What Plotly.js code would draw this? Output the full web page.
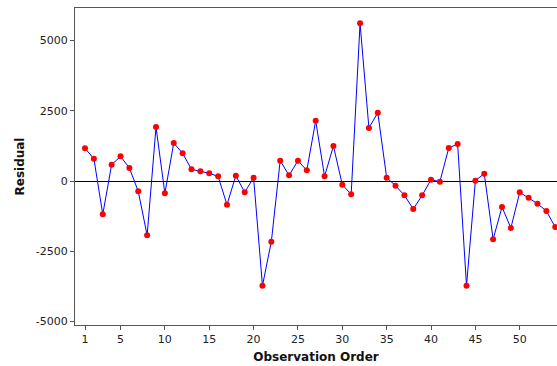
<!DOCTYPE html>
<html>
<head>
<meta charset="utf-8">
<script src="https://cdn.plot.ly/plotly-3.0.1.min.js"></script>
<style>html,body{margin:0;padding:0;background:#fff;}#chart{width:557px;height:366px;}</style>
</head>
<body>
<div id="chart"></div>
<script>
const observation = Array.from({length: 54}, (_, i) => i + 1);
const residual = [
  1163, 794, -1185, 581, 877, 462, -367, -1932, 1920, -439,
  1351, 984, 415, 344, 273, 166, -842, 190, -403, 118,
  -3722, -2157, 723, 201, 723, 379, 2145, 166, 1245, -130,
  -474, 5607, 1885, 2430, 118, -166, -510, -996, -510, 47,
  -24, 1173, 1316, -3722, 12, 261, -2074, -924, -1671, -403,
  -593, -806, -1067, -1636
];
const xTicks = [1, 5, 10, 15, 20, 25, 30, 35, 40, 45, 50];
const yTicks = [-5000, -2500, 0, 2500, 5000];

const trace = {
  x: observation,
  y: residual,
  type: 'scatter',
  mode: 'lines+markers',
  line: {color: '#0000FF', width: 1},
  marker: {color: '#FF0000', size: 6},
  cliponaxis: false,
  hoverinfo: 'x+y'
};

const fontFam = 'DejaVu Sans, Verdana, sans-serif';
const layout = {
  width: 557, height: 366,
  margin: {l: 75, r: 0, t: 8, b: 41},
  paper_bgcolor: '#fff', plot_bgcolor: '#fff',
  showlegend: false,
  font: {family: fontFam, size: 11, color: '#222'},
  xaxis: {
    range: [-0.13, 54.2],
    tickvals: xTicks,
    ticktext: xTicks.map(String),
    ticks: 'outside', ticklen: 4, tickcolor: '#555',
    showline: true, linecolor: '#555', linewidth: 1, mirror: true,
    showgrid: false, zeroline: false,
    title: {text: '<b>Observation Order</b>', font: {size: 12, family: fontFam, color: '#111'}, standoff: 7}
  },
  yaxis: {
    range: [-5120, 6152],
    tickvals: yTicks,
    ticktext: yTicks.map(String),
    ticks: 'outside', ticklen: 4, tickcolor: '#555',
    showline: true, linecolor: '#555', linewidth: 1, mirror: true,
    showgrid: false,
    zeroline: true, zerolinecolor: '#000', zerolinewidth: 1,
    title: {text: '<b>Residual</b>', font: {size: 12, family: fontFam, color: '#111'}, standoff: 8}
  }
};

Plotly.newPlot('chart', [trace], layout, {staticPlot: true, displayModeBar: false});
</script>
</body>
</html>
